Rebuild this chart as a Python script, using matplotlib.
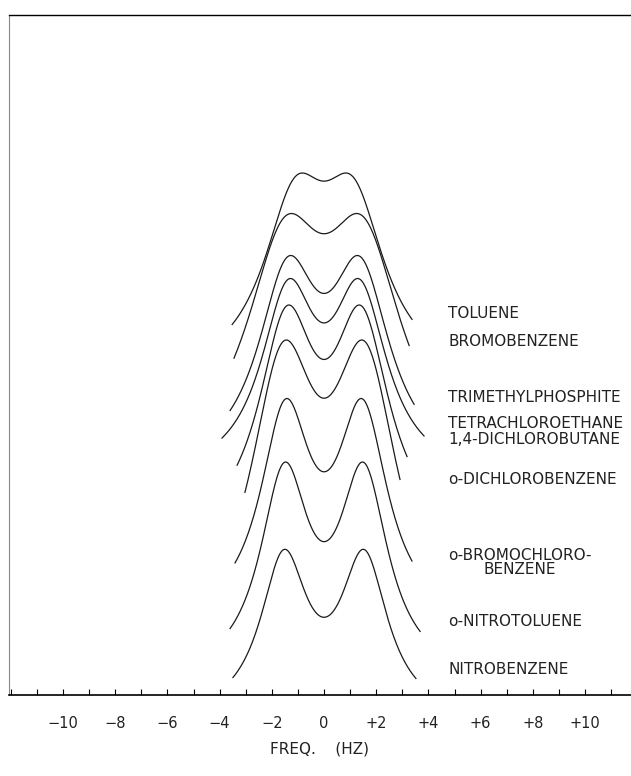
'''
plot.py

Stack of doublet traces for one compound in several solvents,
redrawn from a scanned figure.
'''

import numpy as np
import matplotlib
matplotlib.use('Agg')
import matplotlib.pyplot as plt
from matplotlib.ticker import MultipleLocator

# solvents, top trace first
solvents = ['TOLUENE', 'BROMOBENZENE', 'TRIMETHYLPHOSPHITE', 'TETRACHLOROETHANE',
            '1,4-DICHLOROBUTANE', 'o-DICHLOROBENZENE', 'o-BROMOCHLORO-\nBENZENE',
            'o-NITROTOLUENE', 'NITROBENZENE']

# (freq in Hz, heights in arbitrary units above the axis)
peak_freq = [0.83, 1.24, 1.27, 1.29, 1.35, 1.44, 1.42, 1.47, 1.50]
peak_height = [52.2, 48.15, 43.95, 41.65, 39.0, 35.5, 29.65, 23.3, 14.57]
dip_height = [51.4, 46.15, 40.2, 37.2, 33.6, 29.7, 22.4, 15.3, 7.8]
end_height = [37.3, 34.3, 28.75, 25.8, 23.4, 20.9, 13.3, 6.5, 1.7]
start_freq = [-3.52, -3.45, -3.60, -3.91, -3.33, -3.03, -3.41, -3.60, -3.49]
stop_freq = [3.37, 3.26, 3.45, 3.83, 3.18, 2.91, 3.37, 3.68, 3.52]
label_height = [38.2, 35.3, 29.7, 27.2, 25.5, 21.5, 13.25, 7.3, 2.5]

tick_values = [-10, -8, -6, -4, -2, 0, 2, 4, 6, 8, 10]
tick_labels = ['\u221210', '\u22128', '\u22126', '\u22124', '\u22122', '0',
               '+2', '+4', '+6', '+8', '+10']


def doublet(x, d, w):
    # two lorentzians at +/- d with half width w
    return 1 / (1 + ((x - d) / w) ** 2) + 1 / (1 + ((x + d) / w) ** 2)


# grid of splittings / widths, used to match each trace's peak, dip and ends
d_grid = np.arange(0.3, 2.5, 0.02)[:, None, None]
w_grid = np.arange(0.2, 2.5, 0.02)[None, :, None]
x_grid = np.arange(0, 3.0, 0.01)[None, None, :]
shape = doublet(x_grid, d_grid, w_grid)
x_pk = x_grid[0, 0][shape.argmax(axis=2)]
f_pk = shape.max(axis=2)
f_0 = doublet(0, d_grid, w_grid)[..., 0]


def fit_trace(xp, hp, hd, xe, he):
    f_e = doublet(xe, d_grid, w_grid)[..., 0]
    ratio = (f_pk - f_0) / (f_pk - f_e)
    r_obs = (hp - hd) / (hp - he)
    cost = ((x_pk - xp) / 0.03) ** 2 + ((ratio - r_obs) / 0.01) ** 2
    i, j = np.unravel_index(np.argmin(cost), cost.shape)
    d, w = d_grid[i, 0, 0], w_grid[0, j, 0]
    amp = (hp - he) / (f_pk[i, j] - f_e[i, j])
    base = hp - amp * f_pk[i, j]
    return d, w, amp, base


fig = plt.figure(figsize=(6.31, 7.76), dpi=100)
ax = fig.add_axes([9 / 631, 81 / 776, 622 / 631, 680 / 776])

for k in range(len(solvents)):
    xe = (abs(start_freq[k]) + stop_freq[k]) / 2
    d, w, amp, base = fit_trace(peak_freq[k], peak_height[k], dip_height[k],
                                xe, end_height[k])
    x = np.linspace(start_freq[k], stop_freq[k], 400)
    ax.plot(x, base + amp * doublet(x, d, w), color='#1a1a1a', lw=0.9)
    ax.text(4.75, label_height[k], solvents[k], ha='left', va='center',
            fontsize=11, color='#222222', multialignment='center',
            linespacing=0.9)

ax.set_xlim(-12.07, 11.76)
ax.set_ylim(0, 68)

ax.spines['right'].set_visible(False)
ax.spines['bottom'].set_linewidth(1.2)
ax.spines['top'].set_linewidth(1.0)
ax.spines['left'].set_linewidth(0.8)
ax.spines['left'].set_color('#888888')

ax.set_xticks(tick_values)
ax.set_xticklabels(tick_labels)
ax.xaxis.set_minor_locator(MultipleLocator(1))
ax.tick_params(axis='x', which='both', direction='in', length=4, width=0.8,
               pad=15, labelsize=10.5, labelcolor='#222222')
ax.set_yticks([])
ax.set_xlabel('FREQ.    (HZ)', fontsize=11, color='#222222', labelpad=8)

fig.savefig('out.png', dpi=100)
